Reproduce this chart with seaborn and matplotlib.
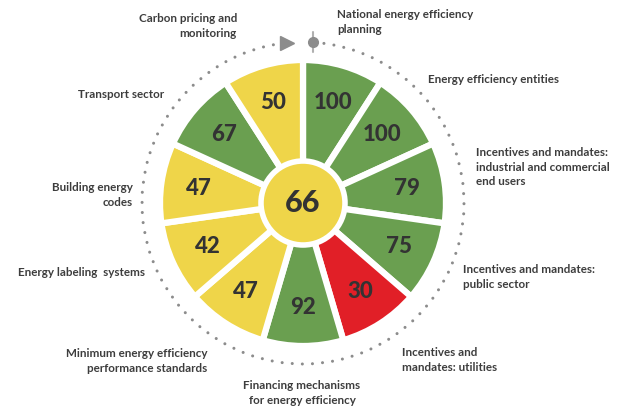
import numpy as np
import matplotlib
matplotlib.use("Agg")
import matplotlib.pyplot as plt
from matplotlib.patches import Circle, Arc
import seaborn as sns

# Categories clockwise from 12 o'clock
categories = [
    "National energy efficiency\nplanning",
    "Energy efficiency entities",
    "Incentives and mandates:\nindustrial and commercial\nend users",
    "Incentives and mandates:\npublic sector",
    "Incentives and\nmandates: utilities",
    "Financing mechanisms\nfor energy efficiency",
    "Minimum energy efficiency\nperformance standards",
    "Energy labeling  systems",
    "Building energy\ncodes",
    "Transport sector",
    "Carbon pricing and\nmonitoring",
]
scores = [100, 100, 79, 75, 30, 92, 47, 42, 47, 67, 50]
status = ["good", "good", "good", "good", "poor", "good", "fair", "fair", "fair", "good", "fair"]
overall = 66

palette = {"good": "#6a9f50", "fair": "#efd549", "poor": "#e11f27"}
text_dark = "#333333"
label_grey = "#3d3d3d"
dot_grey = "#8c8c8c"

# label anchor points in pixel space (x, y from top), alignment
label_pos = [
    (337, 22, "left"),
    (428, 79, "left"),
    (476, 167, "left"),
    (463, 277, "left"),
    (402, 360, "left"),
    (302, 393, "center"),
    (207, 361, "right"),
    (145, 272, "right"),
    (133, 195, "right"),
    (164, 94, "right"),
    (237, 26, "right"),
]

W, H = 629, 412
cx, cy = 303, H - 203
R = 143

sns.set_theme(style="white")
plt.rcParams["font.family"] = ["Lato", "DejaVu Sans"]

fig = plt.figure(figsize=(W / 100, H / 100), dpi=100)
ax = fig.add_axes([0, 0, 1, 1])

wedges, _ = ax.pie(
    np.ones(len(scores)),
    colors=[palette[s] for s in status],
    startangle=90,
    counterclock=False,
    center=(cx, cy),
    radius=R,
    wedgeprops=dict(edgecolor="white", linewidth=4.5),
)

for w, val in zip(wedges, scores):
    mid = np.deg2rad((w.theta1 + w.theta2) / 2)
    ax.text(cx + 105 * np.cos(mid), cy + 105 * np.sin(mid), str(val),
            ha="center", va="center", fontsize=16, fontweight="black", color=text_dark)

# centre score
ax.add_patch(Circle((cx, cy), 42, facecolor=palette["fair"], edgecolor="white", linewidth=4, zorder=3))
ax.text(cx, cy, str(overall), ha="center", va="center", fontsize=22,
        fontweight="black", color=text_dark, zorder=4)

# dotted outer ring with start marker and arrow
ring = Arc((cx, cy), 2 * 161, 2 * 161, theta1=97, theta2=446, color=dot_grey,
           linewidth=2.2, linestyle=(0, (0.01, 3.3)), capstyle="round")
ax.add_patch(ring)
ax.plot([287], [H - 43], marker=">", markersize=10, color=dot_grey, linestyle="none")
ax.plot([313, 313], [H - 32, H - 52], color="#b0b0b0", linewidth=1.5)
ax.plot([313], [H - 42], marker="o", markersize=7, color=dot_grey, linestyle="none")

for name, (x, y, ha) in zip(categories, label_pos):
    ax.text(x, H - y, name, ha=ha, va="center", fontsize=8.4, fontweight="bold",
            color=label_grey, linespacing=1.4)

ax.set_xlim(0, W)
ax.set_ylim(0, H)
ax.set_aspect("equal")
ax.axis("off")

fig.savefig("out.png", dpi=100, facecolor="white")
